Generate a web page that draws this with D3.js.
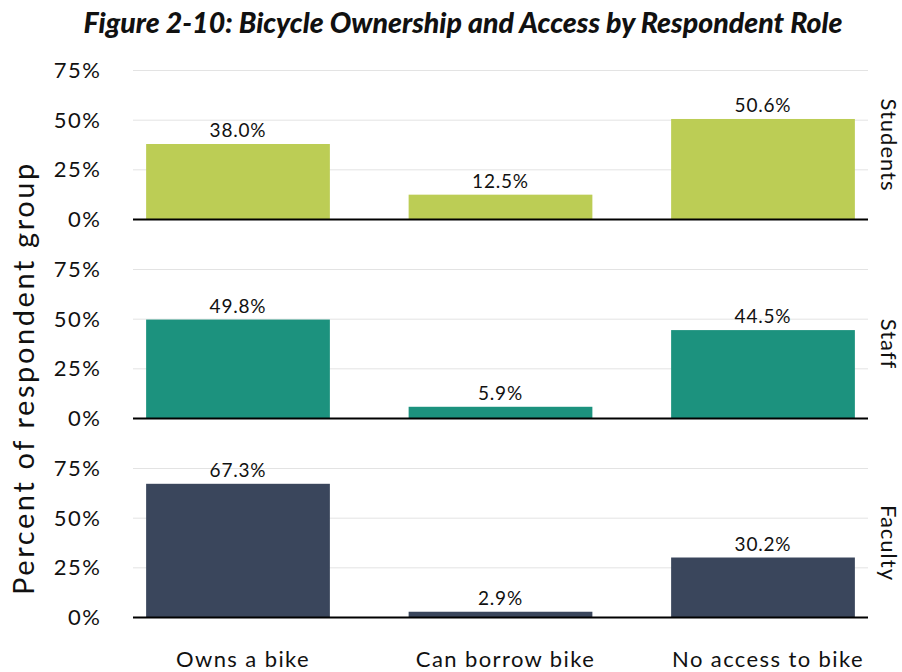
<!DOCTYPE html>
<html><head><meta charset="utf-8">
<script src="https://cdn.jsdelivr.net/npm/d3@7"></script>
<style>body{margin:0;background:#fff}svg{display:block}text{font-family:Lato,"Open Sans",sans-serif;fill:#111}</style>
</head><body><div id="chart"></div>
<script>
const categories = ["Owns a bike", "Can borrow bike", "No access to bike"];
const roles = ["Students", "Staff", "Faculty"];
const students = [38.0, 12.5, 50.6];
const staff = [49.8, 5.9, 44.5];
const faculty = [67.3, 2.9, 30.2];
const yTicks = [0, 25, 50, 75];
const colors = ["#BCCD55", "#1C927E", "#3A465C"];
const series = [students, staff, faculty];

const W = 902, H = 672;
const left = 133, right = 868;
const panelZero = [219.5, 418.5, 617.5];
const panelH = 149; // height from 0 to 75%

const svg = d3.select("#chart").append("svg").attr("width", W).attr("height", H);

svg.append("text").attr("x", 463).attr("y", 33).attr("text-anchor", "middle")
  .style("font-size", "28.5px").style("font-weight", "900").style("font-style", "italic")
  .text("Figure 2-10: Bicycle Ownership and Access by Respondent Role");

const x = d3.scaleBand().domain(categories).range([left, right]).paddingInner(0.3).paddingOuter(0.05);

roles.forEach((role, i) => {
  const y = d3.scaleLinear().domain([0, 75]).range([panelZero[i], panelZero[i] - panelH]);
  const g = svg.append("g");
  g.selectAll("line.grid").data(yTicks.filter(t => t > 0)).join("line")
    .attr("x1", left).attr("x2", right).attr("y1", d => y(d)).attr("y2", d => y(d))
    .attr("stroke", "#e3e3e3").attr("stroke-width", 1);
  const ax = g.append("g").attr("transform", `translate(${left},0)`)
    .call(d3.axisLeft(y).tickValues(yTicks).tickFormat(d => d + "%").tickSize(0).tickPadding(31.5));
  ax.select(".domain").remove();
  ax.selectAll("text").style("font-size", "22px").style("letter-spacing", "1.5px").attr("fill", "#111");
  const vals = series[i];
  g.selectAll("rect").data(categories).join("rect")
    .attr("x", d => x(d)).attr("width", x.bandwidth())
    .attr("y", (d, j) => y(vals[j])).attr("height", (d, j) => y(0) - y(vals[j]))
    .attr("fill", colors[i]);
  g.selectAll("text.val").data(categories).join("text").attr("class", "val")
    .attr("x", d => x(d) + x.bandwidth() / 2).attr("y", (d, j) => y(vals[j]) - 7)
    .attr("text-anchor", "middle").style("font-size", "19px").style("letter-spacing", "0.8px")
    .text((d, j) => vals[j].toFixed(1) + "%");
  g.append("line").attr("x1", left).attr("x2", right).attr("y1", y(0)).attr("y2", y(0))
    .attr("stroke", "#000").attr("stroke-width", 2);
  const cy = y(37.5);
  g.append("text").attr("transform", `translate(887,${cy}) rotate(90)`)
    .attr("text-anchor", "middle").attr("dominant-baseline", "middle")
    .style("font-size", "22px").style("letter-spacing", "1px").attr("fill", "#222").text(role);
});

const xa = svg.append("g").attr("transform", `translate(0,${panelZero[2]})`)
  .call(d3.axisBottom(x).tickSize(0).tickPadding(34));
xa.select(".domain").remove();
xa.selectAll("text").attr("dx", 5).style("font-size", "22px").style("letter-spacing", "1.4px").attr("fill", "#111");

svg.append("text").attr("transform", "translate(27,378) rotate(-90)")
  .attr("text-anchor", "middle").attr("dominant-baseline", "middle")
  .style("font-size", "29px").style("letter-spacing", "2.6px").text("Percent of respondent group");
</script></body></html>
